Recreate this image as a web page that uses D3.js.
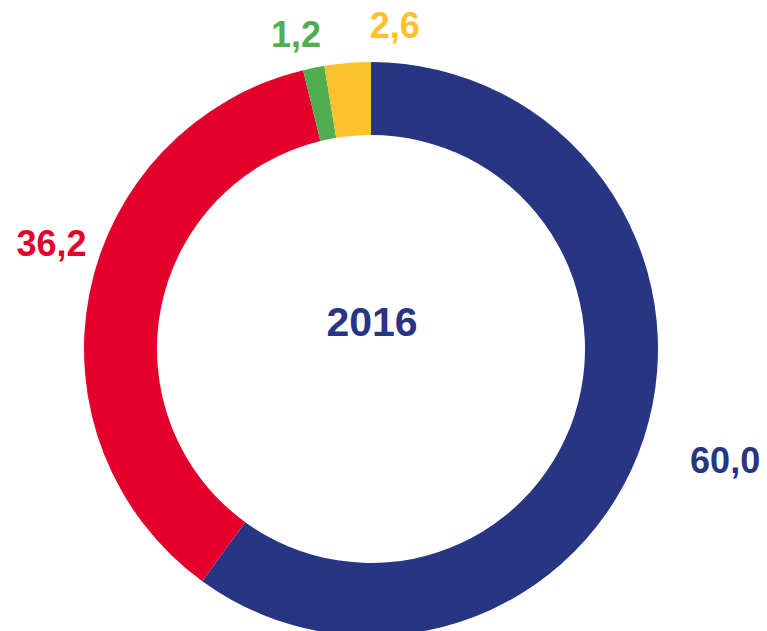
<!DOCTYPE html>
<html>
<head>
<meta charset="utf-8">
<script src="https://cdn.jsdelivr.net/npm/d3@7"></script>
<style>
  html, body { margin: 0; padding: 0; background: #fff; overflow: hidden; }
  text { font-family: "Liberation Sans", Arial, sans-serif; font-weight: bold; }
</style>
</head>
<body>
<div id="donut"></div>
<script>
// data
var year = "2016";
var labels = ["60,0", "36,2", "1,2", "2,6"];
var values = [60.0, 36.2, 1.2, 2.6];
var colors = ["#283583", "#e3002c", "#51ae4f", "#fec12e"];

// small nudges for the value labels (px)
var labelNudge = [[26, 4], [19, -39], [-6, 23], [52, 20]];

var width = 767, height = 631;
var cx = 371, cy = 349;
var outerR = 287, innerR = 214;

var svg = d3.select("#donut")
    .append("svg")
    .attr("width", width)
    .attr("height", height)
    .append("g")
    .attr("transform", "translate(" + cx + "," + cy + ")");

var pie = d3.pie()
    .sort(null)
    .value(function (d) { return d; });

var arc = d3.arc()
    .innerRadius(innerR)
    .outerRadius(outerR);

var labelArc = d3.arc()
    .innerRadius(345)
    .outerRadius(345);

var slices = pie(values);

svg.selectAll("path")
    .data(slices)
    .enter()
    .append("path")
    .attr("d", arc)
    .attr("fill", function (d, i) { return colors[i]; });

// value labels
svg.selectAll(".val")
    .data(slices)
    .enter()
    .append("text")
    .attr("class", "val")
    .attr("transform", function (d, i) {
        var c = labelArc.centroid(d);
        return "translate(" + (c[0] + labelNudge[i][0]) + "," + (c[1] + labelNudge[i][1]) + ")";
    })
    .attr("dy", "0.36em")
    .style("text-anchor", "middle")
    .style("font-size", "36px")
    .attr("fill", function (d, i) { return colors[i]; })
    .text(function (d, i) { return labels[i]; });

// centre label
svg.append("text")
    .attr("x", 1)
    .attr("y", -28)
    .attr("dy", "0.36em")
    .style("text-anchor", "middle")
    .style("font-size", "41px")
    .attr("fill", colors[0])
    .text(year);
</script>
</body>
</html>
